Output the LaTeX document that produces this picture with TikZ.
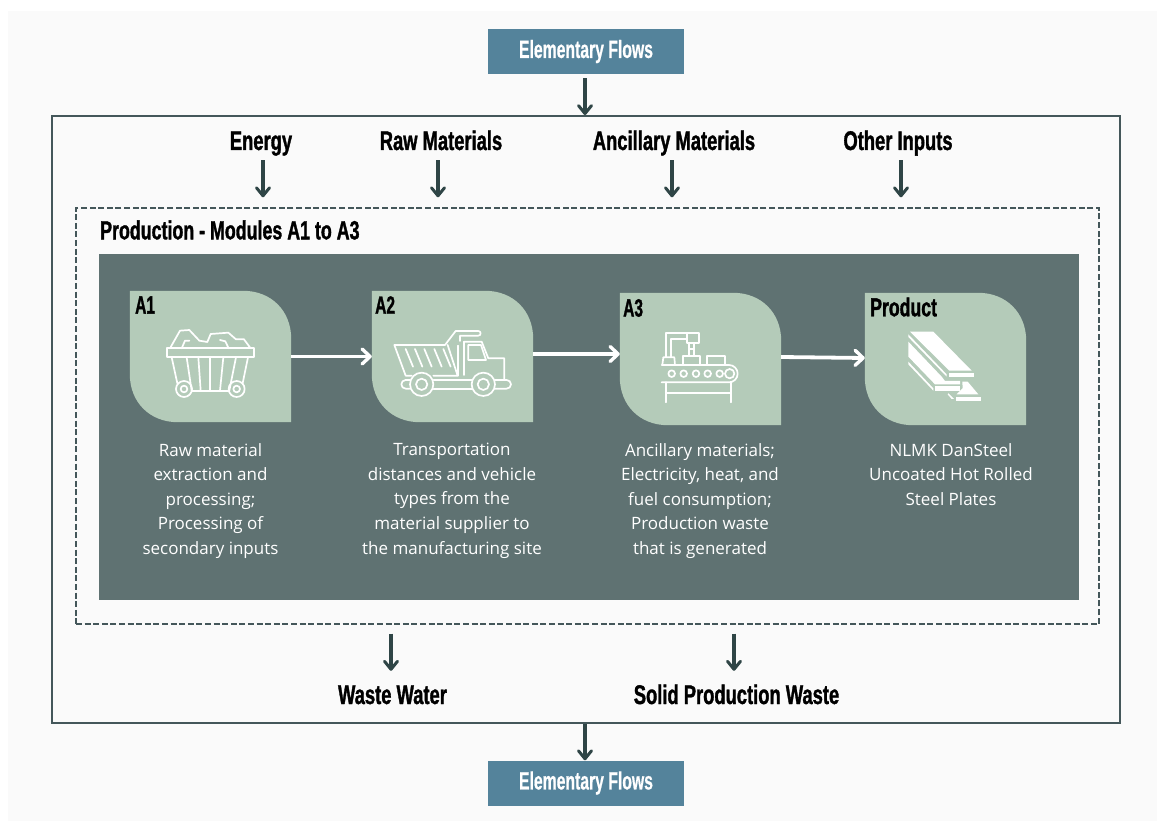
\documentclass[tikz,border=0pt]{standalone}
\usepackage{fontspec}
\setmainfont{Open Sans}
\newfontfamily\anton[FakeStretch=0.68,FakeBold=1.2]{Liberation Sans}
\newfontfamily\antonw[FakeStretch=0.63,FakeBold=0.6]{Liberation Sans}
\newfontfamily\antonc[FakeStretch=0.62,FakeBold=1.2]{Liberation Sans}
\usetikzlibrary{arrows.meta,calc}
\definecolor{pagebg}{HTML}{FAFAFA}
\definecolor{teal}{HTML}{54839B}
\definecolor{panel}{HTML}{5F7272}
\definecolor{cardc}{HTML}{B4CBB9}
\definecolor{darkl}{HTML}{2F4546}
\definecolor{framec}{HTML}{44575A}
\tikzset{
 x=1pt,y=-1pt,
 flow/.style={draw=darkl,line width=3.4pt,-{Straight Barb[length=8pt,width=13pt,line width=3pt,round]}},
 wflow/.style={draw=white,line width=3.8pt,-{Straight Barb[length=8pt,width=15pt,line width=3.4pt,round]}},
 headl/.style={inner sep=0pt,text height=21pt,text depth=5pt,text=black,font=\anton\bfseries\fontsize{27}{27}\selectfont},
 cardl/.style={inner sep=0pt,anchor=west,text=black,font=\antonc\bfseries\fontsize{25}{25}\selectfont},
 bluebox/.style={fill=teal,draw=none,inner sep=0pt,minimum width=196pt,minimum height=45pt,text=white,font=\antonw\bfseries\fontsize{25}{25}\selectfont},
 bodyt/.style={inner sep=0pt,anchor=north,align=center,text=white,font=\fontsize{17}{24.6}\selectfont},
 cardbox/.style={inner sep=0pt,minimum width=161pt,minimum height=131pt},
 ic/.style={draw=white,line width=1.7pt,line join=round,line cap=round},
}
\newcommand{\cardshape}[1]{%
 \fill[cardc] (#1.north west) -- ($(#1.north east)+(-48,0)$)
   .. controls ($(#1.north east)+(-20,0)$) and ($(#1.north east)+(0,20)$) .. ($(#1.north east)+(0,48)$)
   -- (#1.south east) -- ($(#1.south west)+(48,0)$)
   .. controls ($(#1.south west)+(20,0)$) and ($(#1.south west)+(0,-20)$) .. ($(#1.south west)+(0,-48)$)
   -- cycle;}
\begin{document}
\begin{tikzpicture}
\useasboundingbox (0,0) rectangle (1157,821);
\fill[white] (0,0) rectangle (1157,821);
\fill[pagebg] (8,11) rectangle (1157,821);
% frames
\node[draw=framec,line width=1.8pt,inner sep=0pt,minimum width=1068pt,minimum height=607pt] (outer) at (586,419.5) {};
\node[draw=framec,line width=1.4pt,dash pattern=on 6pt off 2.6pt,inner sep=0pt,minimum width=1023pt,minimum height=416pt] (prod) at (587.5,416) {};
\node[fill=panel,inner sep=0pt,minimum width=980pt,minimum height=346pt] (panelbox) at (589,427) {};
% top/bottom
\node[bluebox] (top) at (586,51.5) {Elementary Flows};
\node[bluebox] (bottom) at (586,783) {Elementary Flows};
\draw[flow,shorten <=4pt] ([xshift=-1pt]top.south) -- ([xshift=-1pt]top.south |- outer.north);
\draw[flow] ([xshift=-1pt]outer.south) -- ([xshift=-1pt]outer.south |- bottom.north);
% inputs
\node[headl] (energy) at (261,142) {Energy};
\node[headl] (raw) at (441,142) {Raw Materials};
\node[headl] (anc) at (674,142) {Ancillary Materials};
\node[headl] (other) at (898,142) {Other Inputs};
\foreach \n/\dx in {energy/2,raw/-3,anc/-2,other/3}{
 \draw[flow,shorten <=5pt,shorten >=10pt] ([xshift=\dx pt]\n.south) -- ([xshift=\dx pt]\n.south |- prod.north);
}
% outputs
\node[headl] (waste) at (392.5,696) {Waste Water};
\node[headl] (solid) at (736.5,696) {Solid Production Waste};
\foreach \n/\dx in {waste/-1.5,solid/-2.5}{
 \draw[flow,shorten <=9pt,shorten >=12pt] ([xshift=\dx pt]\n.north |- prod.south) -- ([xshift=\dx pt]\n.north);
}
\node[anchor=west,inner sep=0pt,text=black,font=\anton\bfseries\fontsize{26.2}{27}\selectfont] (prodlab) at (100,230) {Production - Modules A1 to A3};
% cards
\node[cardbox] (a1) at (210.5,356.5) {};
\node[cardbox] (a2) at (452.5,356.5) {};
\node[cardbox,minimum height=132pt] (a3) at (700.5,359) {};
\node[cardbox,minimum height=132pt] (p4) at (945.5,359) {};
\cardshape{a1}\cardshape{a2}\cardshape{a3}\cardshape{p4}
\node[cardl] (la1) at (135,305) {A1};
\node[cardl] (la2) at (375,305) {A2};
\node[cardl] (la3) at (623,308) {A3};
\node[cardl,font=\anton\bfseries\fontsize{26}{26}\selectfont] (la4) at (870,307) {Product};
\draw[wflow] (a1.east) -- (a2.west);
\draw[wflow] ([yshift=2.5pt]a2.east) -- ([yshift=2.5pt]a2.east -| a3.west);
\draw[wflow] ([yshift=2pt]a3.east) -- ([yshift=1pt]a3.east -| p4.west);
% body text
\node[bodyt] (t1) at (210.5,443) {Raw material\\extraction and\\processing;\\Processing of\\secondary inputs};
\node[bodyt] (t2) at (452,443) {Transportation\\distances and vehicle\\types from the\\material supplier to\\the manufacturing site};
\node[bodyt] (t3) at (700,443) {Ancillary materials;\\Electricity, heat, and\\fuel consumption;\\Production waste\\that is generated};
\node[bodyt] (t4) at (951,443) {NLMK DanSteel\\Uncoated Hot Rolled\\Steel Plates};
% icon A1
\begin{scope}[xshift=160pt,yshift=-320pt,x=0.3333pt,y=-0.3333pt,ic]
\draw (20,85) rectangle (282,112);
\draw (30,85) -- (60,32) -- (88,30) -- (118,62) -- (142,66) -- (152,42) -- (205,38) -- (228,58) -- (252,58) -- (272,85);
\draw (65,85) -- (75,62) -- (88,62);
\draw (180,60) -- (196,64) -- (206,85);
\draw (35,112) -- (52,190);
\draw (264,112) -- (248,190);
\draw (80,112) -- (95,212);
\draw (115,112) -- (122,212);
\draw (150,112) -- (150,212);
\draw (190,112) -- (180,212);
\draw (228,112) -- (208,212);
\draw (95,212) -- (208,212);
\draw (72,207) circle[radius=24];
\draw (72,207) circle[radius=10];
\draw (230,207) circle[radius=24];
\draw (230,207) circle[radius=10];
\end{scope}
% icon A2
\begin{scope}[xshift=385pt,yshift=-325pt,x=0.3333pt,y=-0.3333pt,ic]
\draw (80,152) -- (62,152) -- (28,60) -- (180,60) -- (212,18) -- (280,18) arc[start angle=-90,end angle=90,radius=7] -- (225,32) -- (225,48);
\draw (188,60) -- (218,152) -- (145,152);
\draw (218,62) -- (218,152);
\draw (238,50) -- (290,50) -- (310,100) -- (358,100) -- (358,165);
\draw (238,50) -- (238,150);
\draw (250,60) -- (288,60) -- (303,105) -- (250,105) -- cycle;
\foreach \a in {62,90,118,148,175}{\draw (\a,72) -- ({\a+22},125);}
\draw (110,178) circle[radius=35];
\draw (110,178) circle[radius=17];
\draw (295,178) circle[radius=35];
\draw (295,178) circle[radius=17];
\draw (74,165) -- (62,165) arc[start angle=-90,end angle=-270,radius=13] -- (74,191);
\draw (146,165) -- (260,165);
\draw (146,191) -- (260,191);
\draw (330,165) -- (365,165) arc[start angle=-90,end angle=90,radius=13] -- (330,191);
\end{scope}
% icon A3
\begin{scope}[xshift=655pt,yshift=-325pt,x=0.3333pt,y=-0.3333pt,ic]
\draw (20,120) -- (222,120) arc[start angle=-90,end angle=90,radius=26] -- (20,172);
\draw (33,172) -- (33,232);
\draw (228,172) -- (228,232);
\draw (33,205) -- (228,205);
\foreach \a in {50,86,123,158,194}{\draw (\a,146) circle[radius=10];}
\draw (224,146) circle[radius=14];
\draw (22,120) -- (25,97) -- (58,97) -- (60,120);
\draw (85,120) -- (85,92) -- (135,92) -- (135,120);
\draw (155,120) -- (155,92) -- (210,92) -- (210,120);
\draw (33,97) -- (33,25) -- (132,25) -- (132,55) -- (95,55) -- (95,25);
\draw (48,97) -- (48,42) -- (95,42);
\draw (103,55) -- (103,92);
\draw (118,55) -- (118,92);
\draw (103,72) -- (118,72);
\end{scope}
% icon product
\begin{scope}[xshift=900pt,yshift=-325pt,x=0.3333pt,y=-0.3333pt]
\fill[white] (30,20) -- (100,20) -- (215,137) -- (148,137) -- cycle;
\fill[white] (148,143) rectangle (222,156);
\fill[white] (25,28) -- (140,148) -- (140,155) -- (25,36) -- cycle;
\fill[white] (25,50) -- (125,155) -- (135,168) -- (180,168) -- (180,178) -- (105,178) -- (25,95) -- cycle;
\fill[white] (105,183) rectangle (180,197);
\fill[white] (25,110) -- (100,190) -- (100,197) -- (25,118) -- cycle;
\fill[white] (187,170) -- (203,170) -- (235,208) -- (170,208) -- (188,190) -- cycle;
\fill[white] (167,215) rectangle (243,228);
\fill[white] (145,205) -- (162,222) -- (155,222) -- (143,208) -- cycle;
\end{scope}
\end{tikzpicture}
\end{document}
